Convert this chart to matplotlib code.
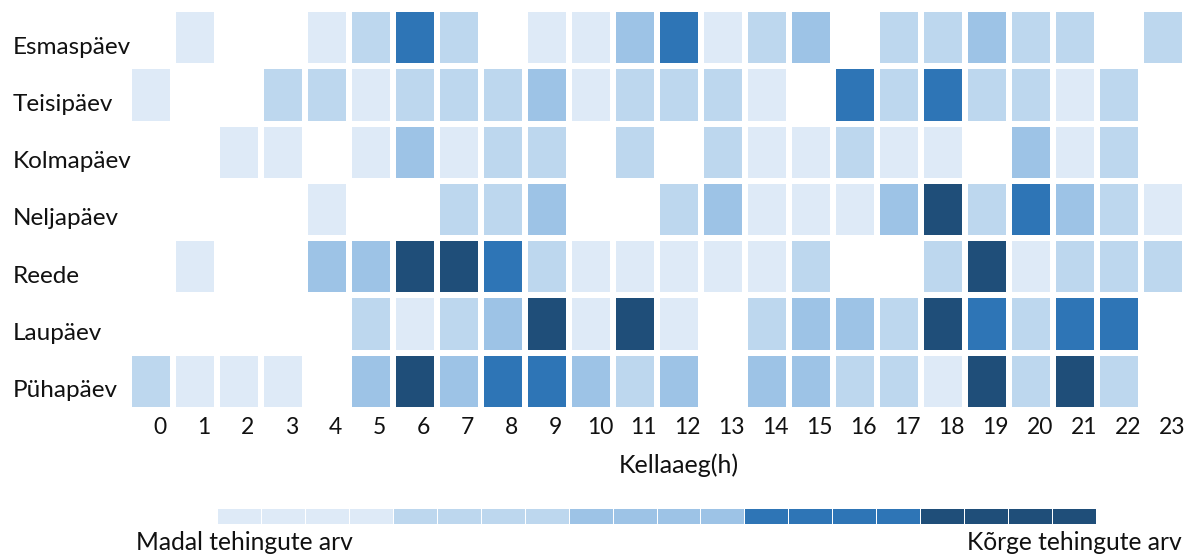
import matplotlib
matplotlib.use("Agg")
import matplotlib.pyplot as plt
import numpy as np
from matplotlib.colors import ListedColormap, BoundaryNorm

days = ["Esmaspäev", "Teisipäev", "Kolmapäev", "Neljapäev", "Reede", "Laupäev", "Pühapäev"]
hours = [str(h) for h in range(24)]

# intensity level 0 (none) .. 5 (highest)
esmaspaev = [0, 1, 0, 0, 1, 2, 4, 2, 0, 1, 1, 3, 4, 1, 2, 3, 0, 2, 2, 3, 2, 2, 0, 2]
teisipaev = [1, 0, 0, 2, 2, 1, 2, 2, 2, 3, 1, 2, 2, 2, 1, 0, 4, 2, 4, 2, 2, 1, 2, 0]
kolmapaev = [0, 0, 1, 1, 0, 1, 3, 1, 2, 2, 0, 2, 0, 2, 1, 1, 2, 1, 1, 0, 3, 1, 2, 0]
neljapaev = [0, 0, 0, 0, 1, 0, 0, 2, 2, 3, 0, 0, 2, 3, 1, 1, 1, 3, 5, 2, 4, 3, 2, 1]
reede     = [0, 1, 0, 0, 3, 3, 5, 5, 4, 2, 1, 1, 1, 1, 1, 2, 0, 0, 2, 5, 1, 2, 2, 2]
laupaev   = [0, 0, 0, 0, 0, 2, 1, 2, 3, 5, 1, 5, 1, 0, 2, 3, 3, 2, 5, 4, 2, 4, 4, 0]
puhapaev  = [2, 1, 1, 1, 0, 3, 5, 3, 4, 4, 3, 2, 3, 0, 3, 3, 2, 2, 1, 5, 2, 5, 2, 0]

level_colors = ["#FFFFFF", "#DEEAF7", "#BDD7EE", "#9DC3E6", "#2E75B6", "#1F4E79"]
legend_levels = [1, 2, 3, 4, 5]
legend_steps = 4
label_low = "Madal tehingute arv"
label_high = "Kõrge tehingute arv"
xlabel = "Kellaaeg(h)"

plt.rcParams["font.family"] = ["Lato", "DejaVu Sans"]

data = np.array([esmaspaev, teisipaev, kolmapaev, neljapaev, reede, laupaev, puhapaev])
cmap = ListedColormap(level_colors)
norm = BoundaryNorm(np.arange(-0.5, len(level_colors) + 0.5, 1), cmap.N)

W, H = 1197, 558
fig = plt.figure(figsize=(W / 100, H / 100), dpi=100)

def px_axes(x0, y0, x1, y1):
    return fig.add_axes([x0 / W, 1 - y1 / H, (x1 - x0) / W, (y1 - y0) / H])

ax = px_axes(129, 9, 1185, 410)
ax.pcolormesh(np.arange(25), np.arange(8), data, cmap=cmap, norm=norm,
              edgecolor="white", linewidth=2.9)
ax.set_xlim(0, 24)
ax.set_ylim(7, 0)
for s in ax.spines.values():
    s.set_visible(False)

ax.set_xticks(np.arange(24) + 0.5 + 0.2)
ax.set_xticklabels(hours, fontsize=16.5, color="#111111")
ax.set_yticks(np.arange(7) + 0.5 + 0.13)
ax.set_yticklabels(days, fontsize=17.5, color="#111111")
ax.tick_params(axis="both", length=0)
ax.tick_params(axis="x", pad=5)
ax.tick_params(axis="y", pad=84)
for lab in ax.get_yticklabels():
    lab.set_ha("left")

fig.text(679 / W, 1 - 465 / H, xlabel, ha="center", va="center", fontsize=18, color="#111111")

# legend bar
cax = px_axes(217, 508, 1096, 524)
leg = np.repeat(legend_levels, legend_steps)[None, :]
cax.pcolormesh(np.arange(leg.shape[1] + 1), [0, 1], leg, cmap=cmap, norm=norm,
               edgecolor="white", linewidth=0.6)
cax.set_xlim(0, leg.shape[1])
cax.set_ylim(0, 1)
cax.axis("off")

fig.text(136 / W, 1 - 543 / H, label_low, ha="left", va="center", fontsize=17.7, color="#111111")
fig.text(1182 / W, 1 - 543 / H, label_high, ha="right", va="center", fontsize=17.7, color="#111111")

fig.savefig("out.png", dpi=100)
